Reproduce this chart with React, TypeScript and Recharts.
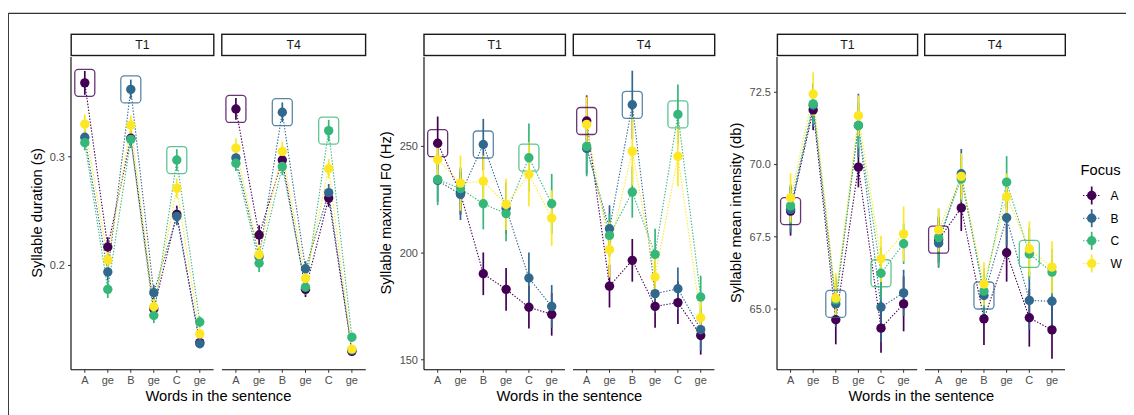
import React from 'react';
import { ComposedChart, Line, XAxis, YAxis, ErrorBar } from 'recharts';

type Focus = 'A' | 'B' | 'C' | 'W';

const words = ['A', 'ge', 'B', 'ge', 'C', 'ge'];
const wordIndex = [0, 1, 2, 3, 4, 5];
const focusLevels: Focus[] = ['A', 'B', 'C', 'W'];
const focusColors: Record<Focus, string> = { A: '#440154', B: '#31688E', C: '#35B779', W: '#FDE725' };
// word position carrying the focus in each condition (W = whole sentence, no box)
const focusedWord: Record<Focus, number> = { A: 0, B: 2, C: 4, W: -1 };

// Syllable duration (s)
const durationT1 = {
  A: [0.368, 0.217, 0.317, 0.160, 0.247, 0.129],
  B: [0.318, 0.194, 0.362, 0.175, 0.245, 0.128],
  C: [0.313, 0.178, 0.316, 0.154, 0.297, 0.148],
  W: [0.330, 0.205, 0.329, 0.162, 0.271, 0.137],
};
const durationT1Err = {
  A: [0.011, 0.009, 0.008, 0.007, 0.008, 0.004],
  B: [0.007, 0.008, 0.009, 0.007, 0.008, 0.004],
  C: [0.007, 0.008, 0.008, 0.007, 0.010, 0.005],
  W: [0.009, 0.008, 0.009, 0.007, 0.009, 0.005],
};
const durationT4 = {
  A: [0.344, 0.228, 0.297, 0.178, 0.262, 0.121],
  B: [0.299, 0.208, 0.341, 0.197, 0.267, 0.122],
  C: [0.294, 0.202, 0.291, 0.180, 0.324, 0.134],
  W: [0.308, 0.210, 0.305, 0.188, 0.289, 0.123],
};
const durationT4Err = {
  A: [0.010, 0.009, 0.008, 0.007, 0.008, 0.004],
  B: [0.007, 0.008, 0.009, 0.007, 0.008, 0.004],
  C: [0.007, 0.008, 0.008, 0.007, 0.010, 0.004],
  W: [0.009, 0.008, 0.009, 0.007, 0.009, 0.004],
};

// Syllable maximal F0 (Hz)
const f0T1 = {
  A: [251.5, 228.0, 190.3, 183.0, 174.6, 171.3],
  B: [234.0, 227.5, 250.9, 221.0, 188.3, 175.0],
  C: [234.5, 230.2, 223.1, 218.5, 244.7, 223.1],
  W: [243.8, 232.8, 233.7, 222.8, 236.9, 216.4],
};
const f0T1Err = {
  A: [12.5, 10, 10, 10, 10, 10],
  B: [10, 12, 12, 12, 12, 10],
  C: [12, 10, 12, 13, 16, 14],
  W: [8, 13, 12, 12, 15, 13],
};
const f0T4 = {
  A: [261.9, 184.5, 196.6, 175.0, 176.8, 161.4],
  B: [249.0, 211.4, 269.5, 181.0, 183.3, 164.1],
  C: [250.0, 208.3, 228.6, 199.4, 265.0, 179.4],
  W: [260.3, 201.6, 247.7, 188.8, 245.3, 169.7],
};
const f0T4Err = {
  A: [12, 10, 10, 10, 10, 9],
  B: [12, 11, 16, 9, 10, 10],
  C: [14, 10, 12, 12, 14, 10],
  W: [13, 13, 16, 10, 14, 10],
};

// Syllable mean intensity (dB)
const intensityT1 = {
  A: [68.39, 71.89, 64.63, 69.91, 64.34, 65.18],
  B: [68.45, 72.05, 65.18, 71.35, 65.07, 65.56],
  C: [68.57, 72.10, 65.32, 71.35, 66.24, 67.26],
  W: [68.85, 72.44, 65.38, 71.69, 66.74, 67.60],
};
const intensityT1Err = {
  A: [0.85, 0.7, 0.85, 0.7, 0.85, 0.95],
  B: [0.8, 0.75, 0.8, 1.1, 1.2, 0.8],
  C: [0.75, 0.7, 0.8, 0.8, 0.9, 0.7],
  W: [0.85, 0.75, 0.85, 0.7, 0.8, 0.95],
};
const intensityT4 = {
  A: [67.40, 68.50, 64.66, 66.95, 64.70, 64.28],
  B: [67.28, 69.68, 65.47, 68.16, 65.30, 65.27],
  C: [67.47, 69.50, 65.62, 69.39, 66.91, 66.28],
  W: [67.74, 69.59, 65.87, 68.89, 67.08, 66.45],
};
const intensityT4Err = {
  A: [0.8, 0.8, 0.9, 1.0, 1.0, 1.0],
  B: [0.85, 0.86, 0.85, 1.0, 1.0, 1.0],
  C: [1.0, 0.8, 0.8, 0.9, 0.9, 0.8],
  W: [0.75, 0.8, 0.75, 0.8, 0.95, 0.9],
};

const durationTicks = [0.2, 0.3];
const f0Ticks = [150, 200, 250];
const intensityTicks = [65, 67.5, 70, 72.5];

const FONT = '"Liberation Sans", Arial, Helvetica, sans-serif';
const ORIGIN = 8; // body margin
const PLOT_TOP = 56.5;
const PLOT_BOTTOM = 369.3;
const PLOT_H = PLOT_BOTTOM - PLOT_TOP;
const X_AXIS_H = 32;
const Y_AXIS_W = 44;
const DOTTED = '1.4 1.6';

type Series = Record<Focus, number[]>;

const makeDot = (s: Focus) => (props: any) => {
  const { cx, cy, index } = props;
  const k = `${s}-${index}`;
  if (cx == null || cy == null || isNaN(cy)) return <g key={k} />;
  const c = focusColors[s];
  return (
    <g key={k}>
      {focusedWord[s] === index && (
        <rect x={cx - 10} y={cy - 13.5} width={20} height={27} rx={3.5} fill="none" stroke={c} strokeOpacity={0.8} strokeWidth={1.3} />
      )}
      <circle cx={cx} cy={cy} r={4.7} fill={c} />
    </g>
  );
};

interface FacetProps {
  left: number;
  right: number;
  values: Series;
  errors: Series;
  domain: [number, number];
  ticks: number[];
  fmt: (v: number) => string;
  showY: boolean;
}

function Facet({ left, right, values, errors, domain, ticks, fmt, showY }: FacetProps) {
  const data = wordIndex.map((i) => {
    const row: Record<string, number> = { i };
    focusLevels.forEach((s) => {
      row[s] = values[s][i];
      row[`${s}Err`] = errors[s][i];
    });
    return row;
  });
  const yw = showY ? Y_AXIS_W : 0;
  const w = right - left;
  return (
    <div style={{ position: 'absolute', left: left - ORIGIN - yw, top: PLOT_TOP - ORIGIN }}>
      <ComposedChart width={w + yw} height={PLOT_H + X_AXIS_H} data={data} margin={{ top: 0, right: 0, bottom: 0, left: 0 }}>
        <XAxis
          type="number"
          dataKey="i"
          domain={[-0.6, 5.6]}
          allowDataOverflow
          ticks={wordIndex}
          interval={0}
          tickFormatter={(v: number) => words[v]}
          height={X_AXIS_H}
          tickSize={3}
          tickMargin={3}
          tick={{ fontSize: 11, fill: '#4D4D4D', fontFamily: FONT }}
          tickLine={{ stroke: '#333333' }}
          axisLine={{ stroke: '#000000', strokeWidth: 1.1 }}
        />
        <YAxis
          type="number"
          domain={domain}
          allowDataOverflow
          ticks={ticks}
          interval={0}
          hide={!showY}
          width={yw}
          tickFormatter={fmt}
          tickSize={3}
          tickMargin={3}
          tick={{ fontSize: 11, fill: '#4D4D4D', fontFamily: FONT }}
          tickLine={{ stroke: '#333333' }}
          axisLine={{ stroke: '#000000', strokeWidth: 1.1 }}
        />
        {focusLevels.map((s) => (
          <Line
            key={s}
            type="linear"
            dataKey={s}
            stroke={focusColors[s]}
            strokeWidth={1.1}
            strokeDasharray={DOTTED}
            dot={makeDot(s)}
            activeDot={false}
            isAnimationActive={false}
          >
            <ErrorBar dataKey={`${s}Err`} direction="y" width={0} stroke={focusColors[s]} strokeWidth={1.7} isAnimationActive={false} />
          </Line>
        ))}
      </ComposedChart>
    </div>
  );
}

interface PanelDef {
  t1: [number, number];
  t4: [number, number];
  title: string;
  titleX: number;
  v1: Series;
  e1: Series;
  v4: Series;
  e4: Series;
  domain: [number, number];
  ticks: number[];
  fmt: (v: number) => string;
}

const panels: PanelDef[] = [
  {
    t1: [71.2, 213.8], t4: [221.8, 365.6], title: 'Syllable duration (s)', titleX: 37,
    v1: durationT1, e1: durationT1Err, v4: durationT4, e4: durationT4Err,
    domain: [0.104, 0.3918], ticks: durationTicks, fmt: (v) => v.toFixed(1),
  },
  {
    t1: [424, 565.4], t4: [573.3, 714.7], title: 'Syllable maximul F0 (Hz)', titleX: 386.5,
    v1: f0T1, e1: f0T1Err, v4: f0T4, e4: f0T4Err,
    domain: [145.3, 291.9], ticks: f0Ticks, fmt: (v) => String(v),
  },
  {
    t1: [777.4, 917.6], t4: [924.7, 1065.3], title: 'Syllable mean intensity (db)', titleX: 736.5,
    v1: intensityT1, e1: intensityT1Err, v4: intensityT4, e4: intensityT4Err,
    domain: [62.9, 73.72], ticks: intensityTicks, fmt: (v) => v.toFixed(1),
  },
];

const STRIP_TOP = 34.3;
const STRIP_H = 21.2;
const legendRows: { s: Focus; y: number }[] = [
  { s: 'A', y: 195.5 },
  { s: 'B', y: 218.2 },
  { s: 'C', y: 240.8 },
  { s: 'W', y: 263.5 },
];

function Strip({ x0, x1, label }: { x0: number; x1: number; label: string }) {
  return (
    <g>
      <rect x={x0} y={STRIP_TOP} width={x1 - x0} height={STRIP_H} fill="#FFFFFF" stroke="#1A1A1A" strokeWidth={1.4} />
      <text x={(x0 + x1) / 2} y={STRIP_TOP + STRIP_H / 2 + 4.4} textAnchor="middle" fontSize={12.3} fill="#1A1A1A" fontFamily={FONT}>
        {label}
      </text>
    </g>
  );
}

export default function App() {
  const midY = (PLOT_TOP + PLOT_BOTTOM) / 2;
  return (
    <div style={{ position: 'relative', width: 1126, height: 407, background: '#FFFFFF', overflow: 'hidden' }}>
      {panels.map((p, k) => (
        <React.Fragment key={k}>
          <Facet left={p.t1[0]} right={p.t1[1]} values={p.v1} errors={p.e1} domain={p.domain} ticks={p.ticks} fmt={p.fmt} showY />
          <Facet left={p.t4[0]} right={p.t4[1]} values={p.v4} errors={p.e4} domain={p.domain} ticks={p.ticks} fmt={p.fmt} showY={false} />
        </React.Fragment>
      ))}
      <svg
        width={1134}
        height={415}
        style={{ position: 'absolute', left: -ORIGIN, top: -ORIGIN, pointerEvents: 'none' }}
      >
        {/* outer frame */}
        <line x1={8.3} y1={13.3} x2={1134} y2={13.3} stroke="#333333" strokeWidth={1.3} />
        <line x1={8.3} y1={13.3} x2={8.3} y2={415} stroke="#333333" strokeWidth={1.3} />
        {panels.map((p, k) => (
          <g key={k}>
            <Strip x0={p.t1[0]} x1={p.t1[1]} label="T1" />
            <Strip x0={p.t4[0]} x1={p.t4[1]} label="T4" />
            <text
              x={p.titleX}
              y={midY}
              transform={`rotate(-90 ${p.titleX} ${midY})`}
              textAnchor="middle"
              dominantBaseline="central"
              fontSize={14.7}
              fill="#000000"
              fontFamily={FONT}
            >
              {p.title}
            </text>
            <text x={(p.t1[0] + p.t4[1]) / 2} y={401} textAnchor="middle" fontSize={14.7} fill="#000000" fontFamily={FONT}>
              Words in the sentence
            </text>
          </g>
        ))}
        {/* legend */}
        <text x={1080.5} y={175.3} fontSize={14.7} fill="#000000" fontFamily={FONT}>
          Focus
        </text>
        {legendRows.map((r) => (
          <g key={r.s}>
            <line x1={1083} y1={r.y} x2={1100.5} y2={r.y} stroke={focusColors[r.s]} strokeWidth={1.1} strokeDasharray={DOTTED} />
            <line x1={1091.7} y1={r.y - 9} x2={1091.7} y2={r.y + 9} stroke={focusColors[r.s]} strokeWidth={1.7} />
            <circle cx={1091.7} cy={r.y} r={4.7} fill={focusColors[r.s]} />
            <text x={1110.5} y={r.y + 4.3} fontSize={12} fill="#000000" fontFamily={FONT}>
              {r.s}
            </text>
          </g>
        ))}
      </svg>
    </div>
  );
}
